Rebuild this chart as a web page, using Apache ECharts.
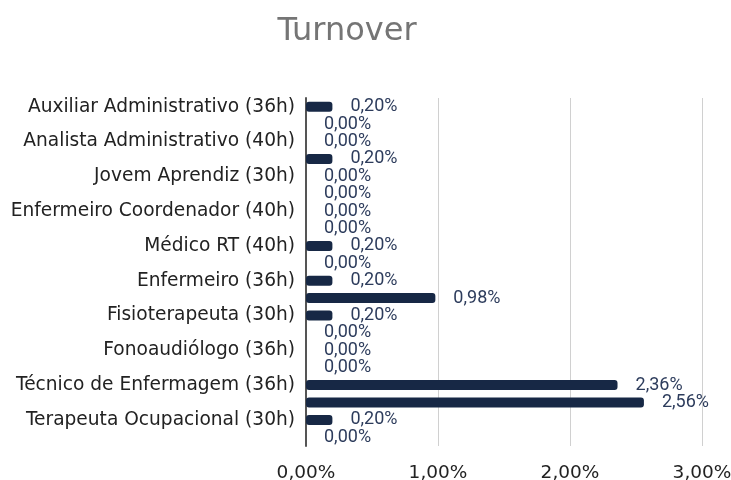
<!DOCTYPE html>
<html>
<head>
<meta charset="utf-8">
<title>Turnover</title>
<script src="https://cdn.jsdelivr.net/npm/echarts@6/dist/echarts.min.js"></script>
<style>
  html, body { margin: 0; padding: 0; background: #fff; }
  #chart { width: 731px; height: 480px; }
</style>
</head>
<body>
<div id="chart"></div>
<script>
  // categorias (as linhas sem nome nao aparecem no eixo)
  var categories = [
    'Auxiliar Administrativo (36h)', '',
    'Analista Administrativo (40h)', '',
    'Jovem Aprendiz (30h)', '',
    'Enfermeiro Coordenador (40h)', '',
    'Médico RT (40h)', '',
    'Enfermeiro (36h)', '',
    'Fisioterapeuta (30h)', '',
    'Fonoaudiólogo (36h)', '',
    'Técnico de Enfermagem (36h)', '',
    'Terapeuta Ocupacional (30h)', ''
  ];
  // turnover em %
  var turnover = [
    0.20, 0.00,
    0.00, 0.20,
    0.00, 0.00,
    0.00, 0.00,
    0.20, 0.00,
    0.20, 0.98,
    0.20, 0.00,
    0.00, 0.00,
    2.36, 2.56,
    0.20, 0.00
  ];
  var xTicks = [0, 1, 2, 3];

  function pct(v) {
    return Number(v).toFixed(2).replace('.', ',') + '%';
  }

  var myChart = echarts.init(document.getElementById('chart'));
  myChart.setOption({
    animation: false,
    title: {
      text: 'Turnover',
      left: 342,
      top: 11,
      textAlign: 'center',
      textStyle: {
        color: '#757575',
        fontFamily: 'DejaVu Sans',
        fontSize: 32,
        fontWeight: 'normal'
      }
    },
    grid: {
      left: 306,
      right: 29,
      top: 98,
      bottom: 34,
      outerBoundsMode: 'none'
    },
    xAxis: {
      type: 'value',
      min: xTicks[0],
      max: xTicks[xTicks.length - 1],
      interval: 1,
      axisLabel: {
        formatter: pct,
        color: '#222',
        fontFamily: 'DejaVu Sans',
        fontSize: 18.5,
        margin: 18
      },
      axisLine: { show: false },
      axisTick: { show: false },
      splitLine: {
        lineStyle: { color: '#d0d0d0', width: 1 }
      }
    },
    yAxis: {
      type: 'category',
      inverse: true,
      data: categories,
      axisLabel: {
        interval: 0,
        color: '#222',
        fontFamily: 'DejaVu Sans',
        fontSize: 18.6,
        margin: 11
      },
      axisLine: {
        show: true,
        lineStyle: { color: '#555', width: 2 }
      },
      axisTick: { show: false }
    },
    series: [
      {
        name: 'Turnover',
        type: 'bar',
        data: turnover,
        barWidth: 10,
        itemStyle: {
          color: '#172845',
          borderRadius: 3
        },
        label: {
          show: true,
          position: 'right',
          distance: 18,
          formatter: function (p) { return pct(p.value); },
          color: '#2d3c5c',
          fontFamily: 'Roboto',
          fontSize: 18
        }
      }
    ]
  });
</script>
</body>
</html>
